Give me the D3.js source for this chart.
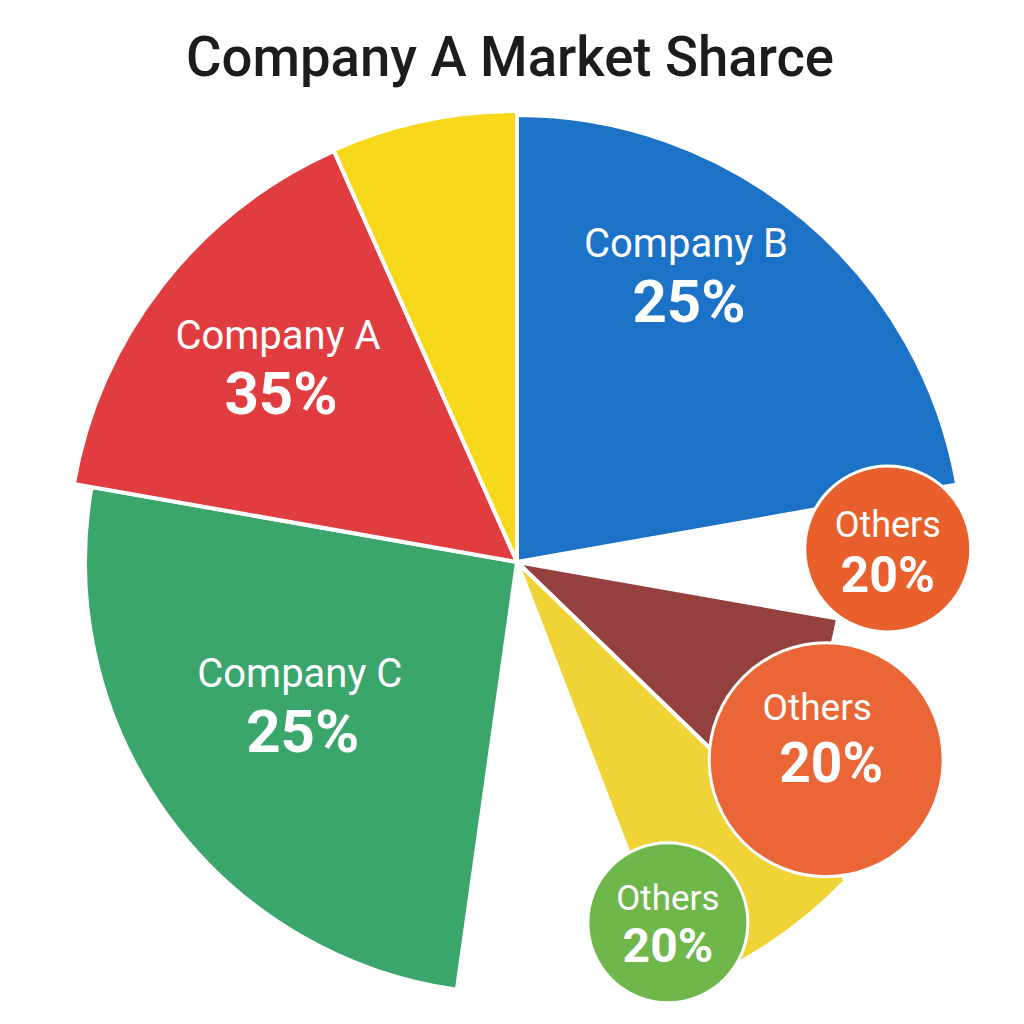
<!DOCTYPE html>
<html>
<head>
<meta charset="utf-8">
<script src="https://cdn.jsdelivr.net/npm/d3@7"></script>
<style>
  html, body { margin: 0; padding: 0; background: #fff; }
  svg { display: block; }
</style>
</head>
<body>
<svg id="chart" width="1024" height="1024"></svg>
<script>
// slices clockwise from 12 o'clock, extent in degrees as drawn
const sliceNames = ["Company B", "gap1", "Others red", "Others yellow", "gap2", "Company C", "Company A", "Others top"];
const sliceDegrees = [80, 20, 34, 25, 29, 92, 56, 24];
const sliceLabels = ["Company B", "", "", "", "", "Company C", "Company A", ""];
const sliceShares = ["25%", "", "", "", "", "25%", "35%", ""];

const othersNames = ["Others", "Others", "Others"];
const othersShares = ["20%", "20%", "20%"];

const svg = d3.select("#chart"),
      cx = 517, cy = 562;

// look of each slice
const outerR = {"Company B": 447, "gap1": 0, "Others red": 326, "Others yellow": 458,
                "gap2": 0, "Company C": 432, "Company A": 450, "Others top": 451};
const fill = {"Company B": "#1b72c6", "Others red": "#94403e", "Others yellow": "#f0d334",
              "Company C": "#3ba66b", "Company A": "#e13c3f", "Others top": "#f7d81a"};
// label placement (distance from centre, angle shift in degrees)
const labelPos = {"Company B": [338, -10], "Company C": [257, 3.7], "Company A": [312, 2]};
// callout circles: polar position, radius, colour, font sizes, text offsets
const bubbles = [
  {ang: 88, dist: 371, r: 83, color: "#e9602c", f1: 36, f2: 50, y1: -12, y2: 43, x1: 0, x2: 0},
  {ang: 122.6, dist: 367, r: 117, color: "#ea6636", f1: 37, f2: 55, y1: -40, y2: 22, x1: -9, x2: 5},
  {ang: 157.3, dist: 391, r: 80, color: "#70b74b", f1: 35, f2: 48, y1: -13, y2: 39, x1: 0, x2: 0}
];

const pie = d3.pie().value(d => d).sort(null);
const arcs = pie(sliceDegrees);

svg.append("text")
  .attr("x", 510).attr("y", 76)
  .attr("text-anchor", "middle")
  .attr("font-family", "Roboto, 'Liberation Sans', sans-serif")
  .attr("font-weight", 500)
  .attr("font-size", 56)
  .attr("fill", "#1c1c1c")
  .attr("textLength", 648)
  .attr("lengthAdjust", "spacingAndGlyphs")
  .text("Company A Market Sharce");

const g = svg.append("g").attr("transform", `translate(${cx},${cy})`);

g.selectAll("path.slice")
  .data(arcs.filter((d, i) => outerR[sliceNames[i]] > 0))
  .join("path")
  .attr("class", "slice")
  .attr("d", d => d3.arc().innerRadius(0).outerRadius(outerR[sliceNames[d.index]])(d))
  .attr("fill", d => fill[sliceNames[d.index]])
  .attr("stroke", "#fff")
  .attr("stroke-width", 4)
  .attr("stroke-linejoin", "round");

const labelled = arcs.filter((d, i) => sliceLabels[i] !== "");
labelled.forEach(d => {
  const name = sliceNames[d.index];
  const [dist, shift] = labelPos[name];
  const a = (d.startAngle + d.endAngle) / 2 + shift * Math.PI / 180;
  const x = dist * Math.sin(a), y = -dist * Math.cos(a);
  const t = g.append("g").attr("transform", `translate(${x},${y})`)
    .attr("fill", "#fff").attr("text-anchor", "middle")
    .attr("font-family", "Roboto, sans-serif");
  t.append("text").attr("y", -12).attr("font-size", 40).attr("font-weight", 400)
    .text(sliceLabels[d.index]);
  t.append("text").attr("x", 3).attr("y", 53).attr("font-size", 60).attr("font-weight", 700)
    .text(sliceShares[d.index]);
});

bubbles.forEach((b, i) => {
  const a = b.ang * Math.PI / 180;
  const x = b.dist * Math.sin(a), y = -b.dist * Math.cos(a);
  const bg = g.append("g").attr("transform", `translate(${x},${y})`);
  bg.append("circle").attr("r", b.r).attr("fill", b.color)
    .attr("stroke", "#fff").attr("stroke-width", 3);
  bg.append("text").attr("x", b.x1).attr("y", b.y1).attr("text-anchor", "middle")
    .attr("font-family", "Roboto, sans-serif").attr("font-size", b.f1)
    .attr("fill", "#fff").text(othersNames[i]);
  bg.append("text").attr("x", b.x2).attr("y", b.y2).attr("text-anchor", "middle")
    .attr("font-family", "Roboto, sans-serif").attr("font-size", b.f2).attr("font-weight", 700)
    .attr("fill", "#fff").text(othersShares[i]);
});
</script>
</body>
</html>
